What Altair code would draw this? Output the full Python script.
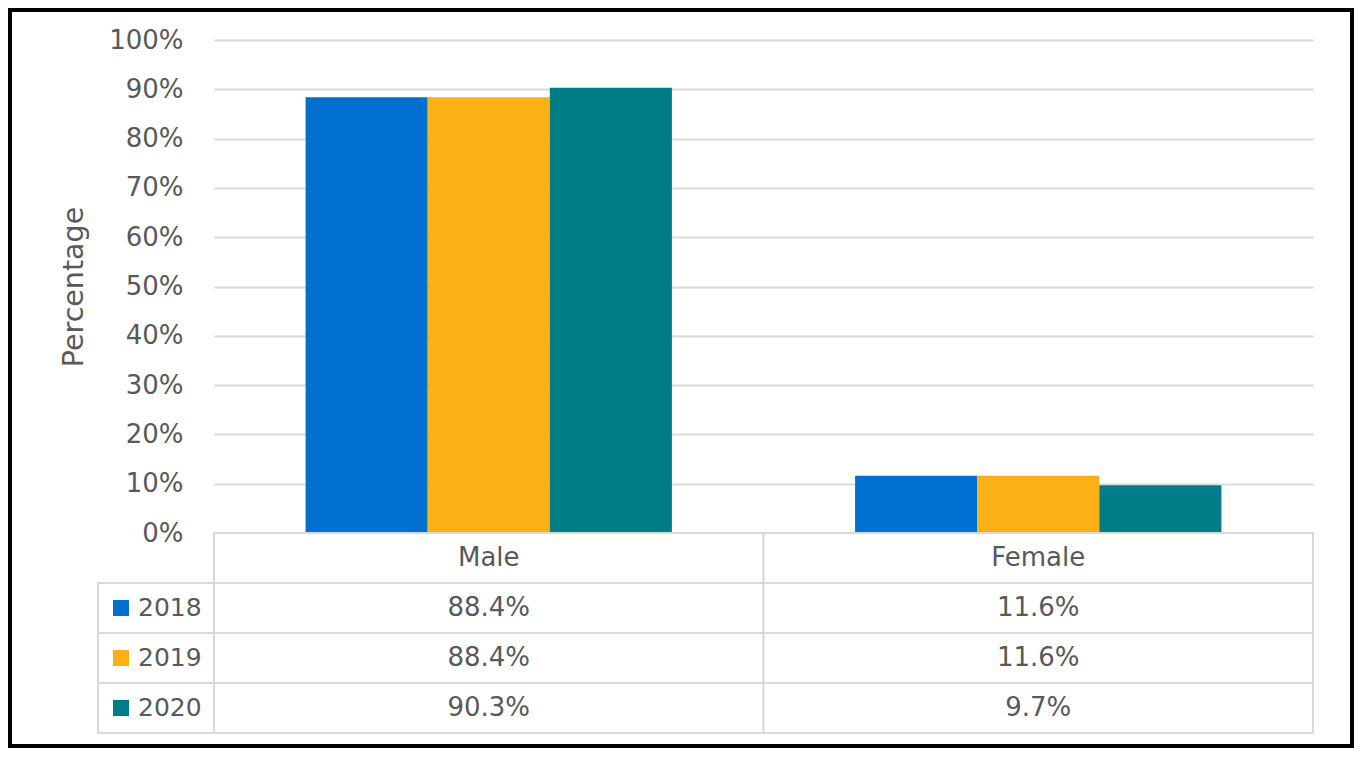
import altair as alt
import pandas as pd

# ---- data ----
genders = ["Male", "Female"]
years = ["2018", "2019", "2020"]
male_share = [0.884, 0.884, 0.903]
female_share = [0.116, 0.116, 0.097]
year_colors = ["#0070D0", "#FBB116", "#007C88"]
y_ticks = [0.0, 0.1, 0.2, 0.3, 0.4, 0.5, 0.6, 0.7, 0.8, 0.9, 1.0]
row_keys = ["hdr"] + years

rows = []
for g, vals in zip(genders, [male_share, female_share]):
    for yr, v in zip(years, vals):
        rows.append({"Gender": g, "Year": yr, "Value": v, "Row": yr,
                     "Label": f"{v * 100:.1f}%"})
bars_df = pd.DataFrame(rows)

hdr_df = pd.DataFrame({"Gender": genders, "Row": ["hdr"] * 2, "Label": genders})
cells_df = pd.concat([hdr_df, bars_df[["Gender", "Row", "Label"]]], ignore_index=True)
year_df = pd.DataFrame({"Year": years, "Row": years})

# ---- layout ----
W, H = 1099, 493
TABLE_H = 200
FONT = "DejaVu Sans"
TXT = "#595959"
GRID = "#d9d9d9"
FS = 26

x_enc = alt.X("Gender:N", scale=alt.Scale(domain=genders, paddingInner=0, paddingOuter=0),
              axis=None)
row_scale = alt.Scale(domain=row_keys, range=[H, H + TABLE_H], paddingInner=0, paddingOuter=0)
color_scale = alt.Scale(domain=years, range=year_colors)

bars = alt.Chart(bars_df).mark_bar().encode(
    x=x_enc,
    xOffset=alt.XOffset("Year:N", scale=alt.Scale(domain=years, paddingInner=0, paddingOuter=0.75)),
    y=alt.Y("Value:Q", scale=alt.Scale(domain=[0, 1]),
            axis=alt.Axis(values=y_ticks, format=".0%", title="Percentage",
                          domain=False, ticks=False, labelPadding=31,
                          labelFont=FONT, labelFontSize=FS, labelColor=TXT,
                          titleFont=FONT, titleFontSize=28.5, titleFontWeight="normal",
                          titleColor=TXT, titlePadding=20,
                          grid=True, gridColor=GRID, gridWidth=2)),
    color=alt.Color("Year:N", scale=color_scale, legend=None),
)

cell_rects = alt.Chart(cells_df).mark_rect(fill="white", stroke=GRID, strokeWidth=2).encode(
    x=x_enc,
    y=alt.Y("Row:N", scale=row_scale, axis=None),
)
cell_text = alt.Chart(cells_df).mark_text(font=FONT, fontSize=FS, color=TXT,
                                          baseline="middle", align="center").encode(
    x=x_enc,
    y=alt.Y("Row:N", scale=row_scale, axis=None),
    text="Label:N",
)
row_hdr = alt.Chart(year_df).mark_rect(fill="white", stroke=GRID, strokeWidth=2).encode(
    x=alt.value(-116), x2=alt.value(0),
    y=alt.Y("Row:N", scale=row_scale, axis=None),
)
swatch = alt.Chart(year_df).mark_square(size=256, opacity=1).encode(
    x=alt.value(-93),
    y=alt.Y("Row:N", scale=row_scale, axis=None),
    color=alt.Color("Year:N", scale=color_scale, legend=None),
)
year_text = alt.Chart(year_df).mark_text(font=FONT, fontSize=25, color=TXT,
                                         baseline="middle", align="left").encode(
    x=alt.value(-76),
    y=alt.Y("Row:N", scale=row_scale, axis=None),
    text="Year:N",
)
frame = alt.Chart(year_df).mark_rect(fillOpacity=0, stroke="black", strokeWidth=4).encode(
    x=alt.value(-204), x2=alt.value(W + 39),
    y=alt.value(-30), y2=alt.value(H + 213),
)

table = alt.layer(cell_rects, cell_text, row_hdr, swatch, year_text)

chart = alt.layer(bars, table, frame).resolve_scale(y="independent").properties(
    width=W, height=H,
    autosize=alt.AutoSizeParams(type="none"),
    padding={"left": 206, "top": 32, "right": 41, "bottom": 215},
    background="white",
).configure_view(stroke=None)

chart.save("out.html", embed_options={"renderer": "svg", "actions": False})
